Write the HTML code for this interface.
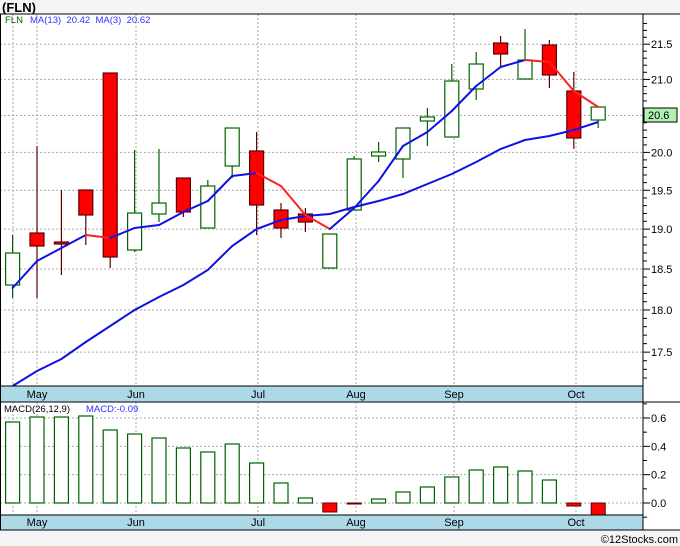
<!DOCTYPE html>
<html><head><meta charset="utf-8"><style>
body{margin:0;background:#fff}
svg{display:block;font-family:"Liberation Sans",sans-serif}
</style></head><body>
<svg id="s" width="680" height="546" xmlns="http://www.w3.org/2000/svg">
<rect x="0" y="0" width="680" height="546" fill="#fff"/>
<rect x="0" y="0" width="680" height="14" fill="#f4f4f4"/>
<rect x="0" y="530" width="680" height="16" fill="#f4f4f4"/>
<text x="2" y="12" font-size="13" font-weight="bold" fill="#000">(FLN)</text>
<g id="g"></g>
<text x="5" y="23" font-size="9.5" fill="#006400">FLN</text>
<text x="30" y="23" font-size="9.5" fill="#3030ff">MA(13)&#160;&#160;20.42&#160;&#160;MA(3)&#160;&#160;20.62</text>
<text x="4" y="412" font-size="9.5" fill="#000">MACD(26,12,9)</text>
<text x="86" y="412" font-size="9.5" fill="#3030ff">MACD:-0.09</text>
<text x="678" y="543" font-size="11" text-anchor="end" fill="#000">©12Stocks.com</text>
</svg>
<script>
const g=document.getElementById('g');let h='';
const Y=p=>4634-1496*Math.log(p);
const xs=[];for(let i=0;i<25;i++)xs.push(12.6+24.4*i);
[21.5,21,20.5,20,19.5,19,18.5,18,17.5].forEach(p=>{h+=`<line x1="0" x2="643" y1="${Y(p)}" y2="${Y(p)}" stroke="#aaa" stroke-dasharray="2,2"/>`});
[0.6,0.4,0.2,0].forEach(v=>{const y=503-v*141.7;h+=`<line x1="0" x2="643" y1="${y}" y2="${y}" stroke="#aaa" stroke-dasharray="2,2"/>`});
[13,37,136,258,356,454,576].forEach(x=>{h+=`<line x1="${x}" x2="${x}" y1="14" y2="386" stroke="#aaa" stroke-dasharray="2,2"/><line x1="${x}" x2="${x}" y1="402" y2="515" stroke="#aaa" stroke-dasharray="2,2"/>`});
const c=[[253,285,235,298,0],[233,246,146,298,1],[242,244,190,275,1],[190,215,190,245,1],[73,257,73,268,1],[213,250,150,252,0],[203,214,149,222,0],[178,212,178,217,1],[186,228,180,228,0],[128,166,128,178,0],[151,205,132,235,1],[210,228,203,238,1],[214,222,208,232,1],[234,268,234,268,0],[159,210,156,210,0],[152,156,142,162,0],[128,159,128,178,0],[117,121,108,146,0],[81,137,64,137,0],[64,89,52,100,0],[43,54,36,66,1],[60,79,29,79,0],[45,75,40,88,1],[91,138,72,149,1],[107,120,107,128,0]];
c.forEach((d,i)=>{const x=xs[i];const col=d[4]?'#600000':'#006400';
h+=`<line x1="${x}" x2="${x}" y1="${d[2]}" y2="${d[3]}" stroke="${col}" stroke-width="1.2"/>`;
h+=`<rect x="${x-7}" y="${d[0]}" width="14" height="${Math.max(d[1]-d[0],2)}" fill="${d[4]?'#ff0000':'#fff'}" stroke="${col}" stroke-width="1.2"/>`;});
const m13=[386,371,359,342,326,310,297,285,270,246,229,220,216,214,207,201,194,184,174,162,149,140,136,130,122];
h+=`<polyline fill="none" stroke="#1010e0" stroke-width="2" points="${m13.map((y,i)=>xs[i]+','+y).join(' ')}"/>`;
const m3=[288,261,248,235,238,228,225,212,201,176,173,186,215,229,208,181,146,132,111,86,67,60,62,91,107];
for(let i=0;i<24;i++){const col=m3[i+1]>m3[i]?'#ff2020':'#1010e0';h+=`<line x1="${xs[i]}" y1="${m3[i]}" x2="${xs[i+1]}" y2="${m3[i+1]}" stroke="${col}" stroke-width="2" stroke-linecap="round"/>`;}
const mt=[422,417,417,416,430,434,438,448,452,444,463,483,498,512,504,499,492,487,477,470,467,471,480,506,515];
const neg={13:1,14:1,23:1,24:1};
mt.forEach((y,i)=>{const x=xs[i];if(neg[i]){h+=`<rect x="${x-7}" y="503" width="14" height="${y-503}" fill="#ff0000" stroke="#600000"/>`}else{h+=`<rect x="${x-7}" y="${y}" width="14" height="${503-y}" fill="#fff" stroke="#006400" stroke-width="1.2"/>`}});
[[386,402],[515,530]].forEach(([a,b])=>{h+=`<rect x="0" y="${a}" width="643" height="${b-a}" fill="#add8e6" stroke="#000"/>`;
[['May',37],['Jun',136],['Jul',258],['Aug',356],['Sep',454],['Oct',576]].forEach(([t,x])=>{h+=`<text x="${x}" y="${b-4}" font-size="11" text-anchor="middle" fill="#000">${t}</text>`});});
h+=`<line x1="0" x2="680" y1="14" y2="14" stroke="#000"/><line x1="643" x2="643" y1="14" y2="530" stroke="#000"/><line x1="0" x2="680" y1="402" y2="402" stroke="#000"/><line x1="0" x2="680" y1="530" y2="530" stroke="#000"/><line x1="0.5" x2="0.5" y1="14" y2="530" stroke="#000"/>`;
for(let p=17.1;p<=21.85;p+=0.1){const y=Y(p);if(y<15||y>386)continue;const major=Math.abs(p*2-Math.round(p*2))<0.01;h+=`<line x1="643" x2="${major?650:647}" y1="${y}" y2="${y}" stroke="#000"/>`;if(major)h+=`<text x="651" y="${y+4}" font-size="11" fill="#000">${p.toFixed(1)}</text>`;}
h+=`<rect x="644" y="108" width="33" height="14" fill="#b0f0b0" stroke="#000"/><text x="648" y="119" font-size="11" fill="#000">20.6</text>`;
for(let v=-0.1;v<=0.7;v+=0.1){const y=503-v*141.7;if(y<403||y>529)continue;const mj=Math.round(v*10)%2==0;h+=`<line x1="643" x2="${mj?650:647}" y1="${y}" y2="${y}" stroke="#000"/>`;if(mj&&v>-0.05)h+=`<text x="651" y="${y+4}" font-size="11" fill="#000">${Math.abs(v).toFixed(1)}</text>`;}
g.innerHTML=h;
</script>
</body></html>
